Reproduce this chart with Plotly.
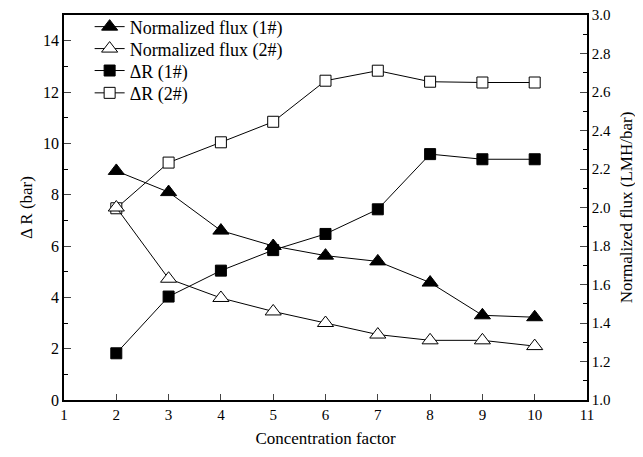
import plotly.graph_objects as go

x_vals = [2, 3, 4, 5, 6, 7, 8, 9, 10]
flux_1 = [2.19, 2.08, 1.88, 1.80, 1.75, 1.72, 1.61, 1.44, 1.43]
flux_2 = [2.00, 1.63, 1.53, 1.46, 1.40, 1.34, 1.31, 1.31, 1.28]
dr_1 = [1.82, 4.03, 5.04, 5.84, 6.47, 7.43, 9.58, 9.38, 9.38]
dr_2 = [7.47, 9.25, 10.04, 10.84, 12.44, 12.83, 12.40, 12.37, 12.37]

FONT = "Liberation Serif"

fig = go.Figure()
fig.add_trace(go.Scatter(x=x_vals, y=flux_1, name="Normalized flux (1#)", yaxis="y2", legend="legend",
                         mode="lines+markers", line=dict(color="black", width=1),
                         marker=dict(symbol="triangle-up", size=14, color="black",
                                     line=dict(color="black", width=1))))
fig.add_trace(go.Scatter(x=x_vals, y=flux_2, name="Normalized flux (2#)", yaxis="y2", legend="legend2",
                         mode="lines+markers", line=dict(color="black", width=1),
                         marker=dict(symbol="triangle-up", size=14, color="white",
                                     line=dict(color="black", width=1))))
fig.add_trace(go.Scatter(x=x_vals, y=dr_1, name="ΔR (1#)", legend="legend3",
                         mode="lines+markers", line=dict(color="black", width=1),
                         marker=dict(symbol="square", size=11, color="black",
                                     line=dict(color="black", width=1))))
fig.add_trace(go.Scatter(x=x_vals, y=dr_2, name="ΔR (2#)", legend="legend4",
                         mode="lines+markers", line=dict(color="black", width=1),
                         marker=dict(symbol="square", size=11, color="white",
                                     line=dict(color="black", width=1))))

def leg(yc):
    return dict(x=0.049, y=yc, xanchor="left", yanchor="middle",
                bgcolor="rgba(0,0,0,0)", font=dict(size=18, family=FONT))

# page has an 8px body margin: shrink the figure by 8px so the plot lands where it should
fig.update_layout(
    width=635, height=449,
    margin=dict(l=56, r=56, t=7, b=57, autoexpand=False),
    paper_bgcolor="white", plot_bgcolor="white",
    font=dict(family=FONT, size=15, color="black"),
    showlegend=True,
    legend=leg(0.969), legend2=leg(0.912), legend3=leg(0.855), legend4=leg(0.797),
    xaxis=dict(range=[1, 11], dtick=1, tick0=1, ticks="inside", ticklen=6,
               showline=True, linecolor="black", linewidth=1.5, mirror=True,
               showgrid=False, zeroline=False, automargin=False, ticklabeloverflow="allow",
               title=dict(text="Concentration factor", font=dict(size=17), standoff=10),
               tickfont=dict(size=15)),
    yaxis=dict(range=[0, 15], dtick=2, tick0=0, ticks="inside", ticklen=7,
               minor=dict(dtick=1, ticks="inside", ticklen=4, tickcolor="black"),
               showline=True, linecolor="black", linewidth=1.5,
               showgrid=False, zeroline=False, automargin=False, ticklabeloverflow="allow",
               title=dict(text="Δ R (bar)", font=dict(size=17), standoff=6),
               tickfont=dict(size=16)),
    yaxis2=dict(range=[1, 3], dtick=0.2, tick0=1, tickformat=".1f", overlaying="y", side="right",
                ticks="inside", ticklen=7,
                minor=dict(dtick=0.1, ticks="inside", ticklen=4, tickcolor="black"),
                showline=True, linecolor="black", linewidth=1.5,
                showgrid=False, zeroline=False, automargin=False, ticklabeloverflow="allow",
                title=dict(text="Normalized flux (LMH/bar)", font=dict(size=17), standoff=10),
                tickfont=dict(size=15)),
)

fig.write_html("out.html")
